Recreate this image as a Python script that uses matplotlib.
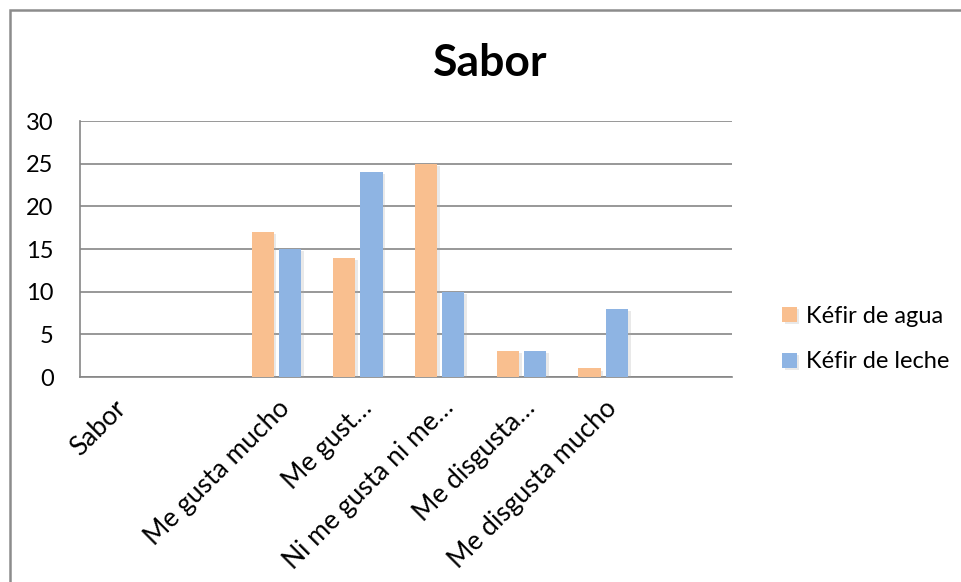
import matplotlib.pyplot as plt
import matplotlib.patheffects as pe
import matplotlib.transforms as mtransforms
from matplotlib.patches import Rectangle
import numpy as np

plt.rcParams['font.family'] = ['Lato', 'DejaVu Sans']

categories = ['Sabor', '', 'Me gusta mucho', 'Me gust…', 'Ni me gusta ni me…',
              'Me disgusta…', 'Me disgusta mucho', '']
agua = [np.nan, np.nan, 17, 14, 25, 3, 1, np.nan]
leche = [np.nan, np.nan, 15, 24, 10, 3, 8, np.nan]
yticks = [0, 5, 10, 15, 20, 25, 30]

W, H = 961, 582
fig = plt.figure(figsize=(W / 100, H / 100), dpi=100)
ax = fig.add_axes([80 / W, 1 - 377 / H, 652 / W, 256 / H])

x = np.arange(len(categories))
# soft drop shadow like the office chart
shadow = [pe.SimplePatchShadow(offset=(2, -1.5), shadow_rgbFace='#aaaaaa', alpha=0.25), pe.Normal()]
ax.bar(x - 0.165, agua, width=0.27, color='#F9BF8F', label='Kéfir de agua', path_effects=shadow, zorder=3)
ax.bar(x + 0.168, leche, width=0.27, color='#8EB4E3', label='Kéfir de leche', path_effects=shadow, zorder=3)

ax.set_xlim(-0.398, 7.578)
ax.set_ylim(0, 30)
ax.set_yticks(yticks)
ax.yaxis.grid(True, color='#868686', linewidth=1.2)
ax.set_axisbelow(True)
for s in ['top', 'right']:
    ax.spines[s].set_visible(False)
ax.spines['left'].set_color('#868686')
ax.spines['bottom'].set_color('#868686')
ax.spines['left'].set_linewidth(1.2)
ax.spines['bottom'].set_linewidth(1.2)
ax.tick_params(axis='y', length=0, pad=19, labelsize=17)
ax.tick_params(axis='x', length=0, pad=0)

ax.set_xticks(x)
ax.set_xticklabels(categories, rotation=45, ha='right', va='center',
                   rotation_mode='anchor', fontsize=19)
off = mtransforms.ScaledTranslation(10 / 100, -27 / 100, fig.dpi_scale_trans)
for lab in ax.get_xticklabels():
    lab.set_transform(lab.get_transform() + off)

fig.text(490 / W, 1 - 63 / H, 'Sabor', ha='center', va='center', fontsize=32, fontweight='bold')

fig.legend(loc='center left', bbox_to_anchor=(773 / W, 1 - 339 / H), frameon=False,
           fontsize=17, handlelength=0.6, handleheight=0.6, handletextpad=0.4,
           labelspacing=1.05, borderaxespad=0)

fig.patches.append(Rectangle((10 / W, -0.05), 1.1, 1 - 10 / H + 0.05, transform=fig.transFigure,
                             fill=False, edgecolor='#8c8c8c', linewidth=1.8))

fig.savefig('out.png', dpi=100)
